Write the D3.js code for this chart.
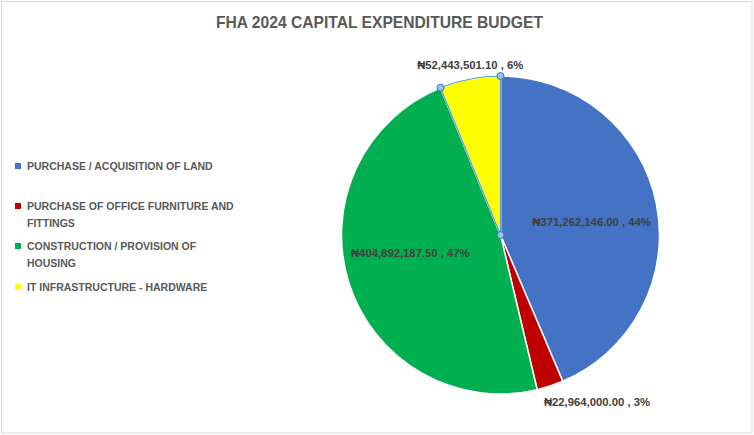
<!DOCTYPE html>
<html>
<head>
<meta charset="utf-8">
<script src="https://cdn.jsdelivr.net/npm/d3@7"></script>
<style>
  html, body { margin: 0; padding: 0; background: #fff; }
  svg { display: block; }
  text { font-family: "Liberation Sans", "DejaVu Sans", sans-serif; font-weight: bold; }
</style>
</head>
<body>
<svg id="chart" width="754" height="435"></svg>
<script>
// ---- Data ----
const title = "FHA 2024 CAPITAL EXPENDITURE BUDGET";
const categories = [
  "PURCHASE / ACQUISITION OF LAND",
  "PURCHASE OF OFFICE FURNITURE AND FITTINGS",
  "CONSTRUCTION / PROVISION OF HOUSING",
  "IT INFRASTRUCTURE - HARDWARE"
];
const values = [371262146.00, 22964000.00, 404892187.50, 52443501.10];
const percentLabels = ["44%", "3%", "47%", "6%"];
const legendLines = [
  ["PURCHASE / ACQUISITION OF LAND"],
  ["PURCHASE OF OFFICE FURNITURE AND", "FITTINGS"],
  ["CONSTRUCTION / PROVISION OF", "HOUSING"],
  ["IT INFRASTRUCTURE - HARDWARE"]
];

// ---- Style / layout ----
const colors = ["#4472c4", "#c00000", "#00b050", "#ffff00"];
const W = 754, H = 435;
const cx = 500.5, cy = 235, R = 159;
// label placement: radius and angle nudge (degrees) per slice
const labelRadius = [92, 193, 92, 173];
const labelNudge = [3.4, -11.8, 6.4, 1.0];
const selectedIndex = 3;

const svg = d3.select("#chart");

svg.append("rect")
  .attr("x", 1.5).attr("y", 1.5)
  .attr("width", W - 3.5).attr("height", H - 3.5)
  .attr("fill", "#fff").attr("stroke", "#d9d9d9").attr("stroke-width", 1);

svg.append("text")
  .attr("x", 379.5).attr("y", 22)
  .attr("text-anchor", "middle").attr("dominant-baseline", "central")
  .attr("font-size", 16.5).attr("fill", "#595959")
  .attr("textLength", 327).attr("lengthAdjust", "spacingAndGlyphs")
  .text(title);

const fmt = v => "\u20A6" + d3.format(",.2f")(v) + " , ";

const pie = d3.pie().sort(null).value(d => d)(values);
const arc = d3.arc().innerRadius(0).outerRadius(R);

const g = svg.append("g").attr("transform", `translate(${cx},${cy})`);

g.selectAll("path.slice")
  .data(pie)
  .join("path")
  .attr("class", "slice")
  .attr("d", arc)
  .attr("fill", (d, i) => colors[i])
  .attr("stroke", "#fff")
  .attr("stroke-width", 1.5)
  .attr("stroke-linejoin", "round");

// selection outline on selected slice
const sel = pie[selectedIndex];
g.append("path")
  .attr("d", arc(sel))
  .attr("fill", "none")
  .attr("stroke", "#5b9bd5")
  .attr("stroke-width", 1.2);
const handlePts = [
  [0, 0],
  [R * Math.sin(sel.startAngle), -R * Math.cos(sel.startAngle)],
  [R * Math.sin(sel.endAngle), -R * Math.cos(sel.endAngle)]
];
g.selectAll("circle.handle")
  .data(handlePts)
  .join("circle")
  .attr("class", "handle")
  .attr("cx", d => d[0]).attr("cy", d => d[1])
  .attr("r", 3.5)
  .attr("fill", "#9dc3e6")
  .attr("stroke", "#2e75b6")
  .attr("stroke-width", 1);

// data labels
g.selectAll("text.lbl")
  .data(pie)
  .join("text")
  .attr("class", "lbl")
  .attr("x", (d, i) => {
    const a = (d.startAngle + d.endAngle) / 2 + labelNudge[i] * Math.PI / 180;
    return labelRadius[i] * Math.sin(a);
  })
  .attr("y", (d, i) => {
    const a = (d.startAngle + d.endAngle) / 2 + labelNudge[i] * Math.PI / 180;
    return -labelRadius[i] * Math.cos(a);
  })
  .attr("text-anchor", "middle")
  .attr("dominant-baseline", "central")
  .attr("font-size", 11.3)
  .attr("fill", "#404040")
  .text((d, i) => fmt(values[i]) + percentLabels[i]);

// legend
const legendY = [166, 206, 246, 287];
const lg = svg.append("g");
legendLines.forEach((lines, i) => {
  lg.append("rect")
    .attr("x", 15).attr("y", legendY[i] - 3)
    .attr("width", 6).attr("height", 6)
    .attr("fill", colors[i]);
  lines.forEach((ln, j) => {
    lg.append("text")
      .attr("x", 27).attr("y", legendY[i] + j * 17)
      .attr("dominant-baseline", "central")
      .attr("font-size", 10.5)
      .attr("fill", "#595959")
      .text(ln);
  });
});
</script>
</body>
</html>
